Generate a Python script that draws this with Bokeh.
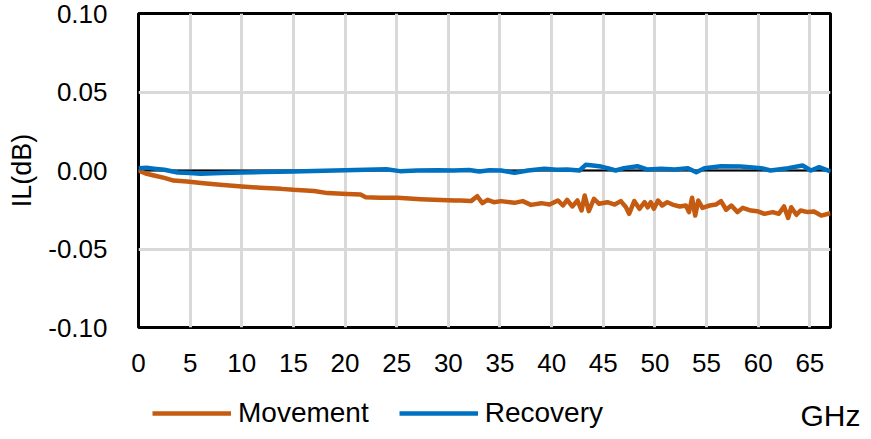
import math
from bokeh.plotting import figure
from bokeh.layouts import column
from bokeh.models import (FixedTicker, NumeralTickFormatter, Span,
                          Legend, LegendItem, Range1d, LinearAxis)
from bokeh.embed import file_html
from bokeh.resources import INLINE

# ---- data ----
mov_ghz = [0, 0.8, 1.5, 2.5, 3.4, 4.7, 6.3, 7.9, 10.0, 11.8, 13.8, 15.0, 17.0,
           18.3, 20.2, 21.5, 22.0, 23.4, 25.1, 27.3, 28.6, 30.6, 31.2, 32.2,
           32.8, 33.3, 33.8, 34.4, 35.1, 36.4, 37.2, 38.0, 39.0, 39.8, 40.6,
           41.1, 41.5, 42.0, 42.5, 42.9, 43.2, 43.6, 44.1, 44.6, 45.4, 46.1,
           46.7, 47.2, 47.5, 48.0, 48.5, 49.0, 49.3, 49.6, 49.9, 50.3, 50.7,
           51.2, 51.7, 52.4, 53.0, 53.3, 53.6, 53.9, 54.2, 54.6, 55.3, 55.9,
           56.4, 56.9, 57.4, 58.0, 58.5, 59.3, 59.9, 60.6, 61.4, 62.0, 62.5,
           62.9, 63.2, 63.7, 64.1, 64.8, 65.4, 66.1, 67.0]
mov_db = [0.0, -0.0021, -0.0032, -0.0047, -0.0064, -0.0070, -0.0081, -0.0091,
          -0.0102, -0.0110, -0.0117, -0.0123, -0.0130, -0.0144, -0.0149,
          -0.0153, -0.0170, -0.0174, -0.0174, -0.0183, -0.0187, -0.0191,
          -0.0191, -0.0195, -0.0164, -0.0208, -0.0187, -0.0202, -0.0195,
          -0.0206, -0.0195, -0.0219, -0.0208, -0.0217, -0.0191, -0.0223,
          -0.0187, -0.0229, -0.0191, -0.0255, -0.0159, -0.0259, -0.0180,
          -0.0212, -0.0202, -0.0217, -0.0195, -0.0234, -0.0276, -0.0195,
          -0.0244, -0.0202, -0.0235, -0.0202, -0.0244, -0.0191, -0.0223,
          -0.0202, -0.0217, -0.0229, -0.0223, -0.0265, -0.0174, -0.0287,
          -0.0191, -0.0238, -0.0223, -0.0217, -0.0195, -0.0250, -0.0223,
          -0.0265, -0.0238, -0.0255, -0.0259, -0.0276, -0.0265, -0.0276,
          -0.0229, -0.0302, -0.0234, -0.0282, -0.0255, -0.0265, -0.0261,
          -0.0287, -0.0272]

rec_ghz = [0, 0.8, 1.5, 2.5, 3.8, 5.0, 6.0, 8.0, 10.0, 12.0, 15.0, 18.0, 20.0,
           22.0, 24.0, 25.3, 27.0, 29.0, 30.5, 32.0, 33.0, 34.0, 35.1, 36.4,
           37.7, 39.3, 40.5, 41.5, 42.7, 43.3, 44.0, 44.8, 45.6, 46.2, 47.0,
           48.3, 49.3, 50.6, 51.9, 53.2, 54.0, 54.8, 56.4, 58.3, 60.3, 61.2,
           62.9, 64.3, 65.1, 65.9, 67.0]
rec_db = [0.0015, 0.0017, 0.0012, 0.0005, -0.0013, -0.0016, -0.0020, -0.0016,
          -0.0013, -0.0010, -0.0006, -0.0002, 0.0002, 0.0004, 0.0008, -0.0004,
          0.0000, 0.0002, 0.0000, 0.0003, -0.0006, 0.0002, 0.0000, -0.0015,
          0.0000, 0.0011, 0.0005, 0.0006, 0.0000, 0.0036, 0.0032, 0.0025,
          0.0011, 0.0000, 0.0015, 0.0027, 0.0006, 0.0011, 0.0006, 0.0015,
          -0.0011, 0.0015, 0.0027, 0.0025, 0.0015, 0.0000, 0.0015, 0.0032,
          0.0000, 0.0021, -0.0006]

x_ticks = list(range(0, 70, 5))
y_ticks = [-0.10, -0.05, 0.0, 0.05, 0.10]
x_max = 67
series_names = ["Movement", "Recovery"]
series_colors = ["#C55A11", "#0070C0"]
x_unit = "GHz"
y_title = "IL(dB)"

FONT = "Liberation Sans"
W = 871
TOP_H = 387
BOT_H = 439 - TOP_H

# ---------------- main chart ----------------
p = figure(width=W, height=TOP_H, output_backend="svg", toolbar_location=None,
           x_range=Range1d(0, x_max), y_range=Range1d(-0.10, 0.10),
           min_border_left=138, min_border_right=41, min_border_top=13,
           min_border_bottom=60)
p.background_fill_color = "white"
p.border_fill_color = "white"
p.outline_line_color = "black"
p.outline_line_width = 3

for ax in (p.xaxis[0], p.yaxis[0]):
    ax.axis_line_color = None
    ax.major_tick_line_color = None
    ax.minor_tick_line_color = None
    ax.major_tick_out = 0
    ax.major_tick_in = 0
    ax.major_label_text_font = FONT
    ax.major_label_text_font_size = "26px"
    ax.major_label_text_color = "black"

p.xaxis[0].ticker = FixedTicker(ticks=x_ticks)
p.yaxis[0].ticker = FixedTicker(ticks=y_ticks)
p.yaxis[0].formatter = NumeralTickFormatter(format="0.00")
p.yaxis[0].major_label_standoff = 31
p.xaxis[0].major_label_standoff = 26
p.yaxis[0].axis_label = y_title
p.yaxis[0].axis_label_standoff = 8
p.yaxis[0].axis_label_text_font = FONT
p.yaxis[0].axis_label_text_font_size = "27px"
p.yaxis[0].axis_label_text_font_style = "normal"
p.yaxis[0].axis_label_text_color = "black"

p.xgrid[0].ticker = FixedTicker(ticks=x_ticks)
p.ygrid[0].ticker = FixedTicker(ticks=y_ticks)
for g in (p.xgrid[0], p.ygrid[0]):
    g.grid_line_color = "#D9D9D9"
    g.grid_line_width = 3

p.add_layout(Span(location=0, dimension="width", line_color="black",
                  line_width=2, level="underlay"))

p.line(mov_ghz, mov_db, line_color=series_colors[0], line_width=4.5,
       line_join="round")
p.line(rec_ghz, rec_db, line_color=series_colors[1], line_width=4.5,
       line_join="round")

# ---------------- legend strip + unit label ----------------
# same series drawn into a strip whose y-range lies outside the data,
# so only their legend entries show
q = figure(width=W, height=BOT_H, output_backend="svg", toolbar_location=None,
           x_range=Range1d(0, x_max), y_range=Range1d(1, 2),
           min_border=0, x_axis_location=None, y_axis_location=None)
q.grid.visible = False
q.outline_line_color = None
q.background_fill_color = "white"
q.border_fill_color = "white"

k1 = q.line(mov_ghz, mov_db, line_color=series_colors[0], line_width=4.5)
k2 = q.line(rec_ghz, rec_db, line_color=series_colors[1], line_width=4.5)
legend = Legend(items=[LegendItem(label=series_names[0], renderers=[k1]),
                       LegendItem(label=series_names[1], renderers=[k2])],
                orientation="horizontal", location="left",
                glyph_width=79, glyph_height=20, label_standoff=7, spacing=30,
                padding=0, margin=14, border_line_color=None,
                background_fill_alpha=0, label_text_font=FONT,
                label_text_font_size="28px", label_text_color="black")
q.add_layout(legend, "center")

# unit label "GHz" as a right-side axis of the strip with a single tick
unit_axis = LinearAxis(ticker=FixedTicker(ticks=[1.9]),
                       major_label_overrides={1.9: x_unit},
                       axis_line_color=None, major_tick_line_color=None,
                       minor_tick_line_color=None, major_tick_out=0,
                       major_tick_in=0, major_label_standoff=-30,
                       major_label_text_font=FONT,
                       major_label_text_font_size="30px",
                       major_label_text_color="black")
q.add_layout(unit_axis, "right")

layout = column(p, q, spacing=0)
open("out.html", "w").write(file_html(layout, INLINE))
